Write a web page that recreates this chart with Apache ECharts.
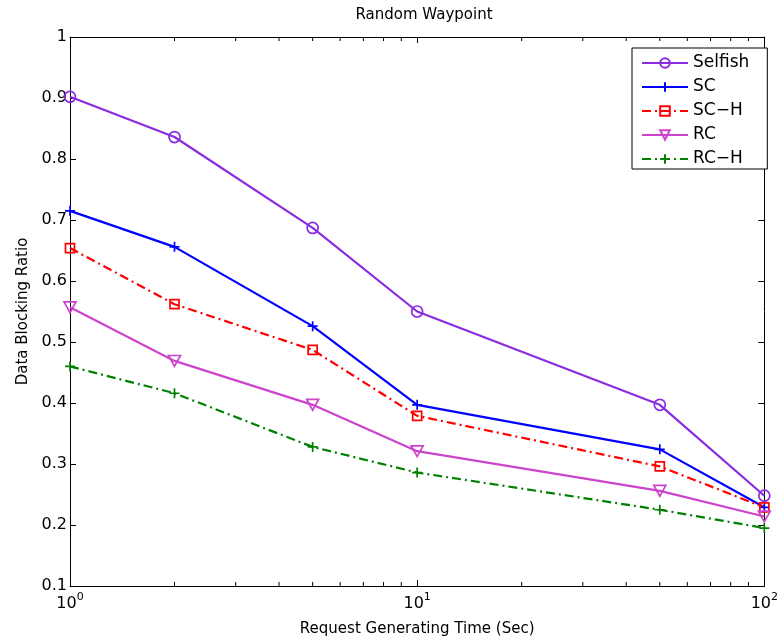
<!DOCTYPE html>
<html>
<head>
<meta charset="utf-8">
<script src="https://cdn.jsdelivr.net/npm/echarts@6/dist/echarts.min.js"></script>
<style>
  html, body { margin: 0; padding: 0; background: #fff; }
  #chart { width: 781px; height: 642px; }
</style>
</head>
<body>
<div id="chart"></div>
<script>
// Request generating time (seconds), log scale
const requestTimes = [1, 2, 5, 10, 50, 100];

// Data blocking ratio per scheme
const selfish = [0.902, 0.836, 0.687, 0.550, 0.397, 0.248];
const sc      = [0.715, 0.656, 0.526, 0.397, 0.324, 0.229];
const scH     = [0.654, 0.562, 0.487, 0.379, 0.296, 0.229];
const rc      = [0.557, 0.469, 0.397, 0.321, 0.256, 0.214];
const rcH     = [0.460, 0.416, 0.328, 0.286, 0.225, 0.195];

const seriesNames = ['Selfish', 'SC', 'SC\u2212H', 'RC', 'RC\u2212H'];

// Axis ranges
const xMin = 1, xMax = 100;
const yMin = 0.1, yMax = 1, yStep = 0.1;
const minorTickValues = [2, 3, 4, 5, 6, 7, 8, 9, 20, 30, 40, 50, 60, 70, 80, 90];

const FONT = 'DejaVu Sans';
const dashDot = [9, 4, 2, 4];

const plusPath = 'path://M5 0L5 10M0 5L10 5';
const downTriangle = 'path://M0 0L10 0L5 9Z';

function pairs(values) {
  return requestTimes.map((t, i) => [t, values[i]]);
}

function lineSeries(name, values, color, symbol, size, dashed) {
  return {
    name: name,
    type: 'line',
    data: pairs(values),
    symbol: symbol,
    symbolSize: size,
    symbolKeepAspect: true,
    clip: false,
    z: 3,
    lineStyle: { color: color, width: 2.2, type: dashed ? dashDot : 'solid' },
    itemStyle: { color: 'rgba(0,0,0,0)', borderColor: color, borderWidth: 1.7 },
    emphasis: { disabled: true }
  };
}

const chart = echarts.init(document.getElementById('chart'), null, { renderer: 'canvas' });

chart.setOption({
  animation: false,
  backgroundColor: '#fff',
  title: {
    text: 'Random Waypoint',
    left: 419,
    top: 3,
    textAlign: 'center',
    textStyle: { fontFamily: FONT, fontSize: 15, fontWeight: 'normal', color: '#000' }
  },
  grid: { left: 70, right: 13, top: 37, bottom: 55 },
  legend: {
    data: seriesNames,
    orient: 'vertical',
    left: 632,
    top: 48,
    padding: [6, 18, 1, 9],
    itemWidth: 46,
    itemHeight: 12,
    itemGap: 6,
    backgroundColor: '#fff',
    borderColor: '#000',
    borderWidth: 1,
    textStyle: { fontFamily: FONT, fontSize: 17, color: '#000', lineHeight: 18 }
  },
  xAxis: [
    {
      type: 'log',
      logBase: 10,
      min: xMin,
      max: xMax,
      splitNumber: 2,
      name: 'Request Generating Time (Sec)',
      nameLocation: 'middle',
      nameGap: 36,
      nameTextStyle: { fontFamily: FONT, fontSize: 15, color: '#000' },
      axisLine: { onZero: false, lineStyle: { color: '#000', width: 1 } },
      axisTick: { inside: true, length: 6, lineStyle: { color: '#000' } },
      splitLine: { show: false },
      axisLabel: {
        margin: 6,
        color: '#000',
        formatter: function (v) {
          return '{b|10}{s|' + Math.round(Math.log10(v)) + '}';
        },
        rich: {
          b: { fontFamily: FONT, fontSize: 16, color: '#000', verticalAlign: 'bottom' },
          s: { fontFamily: FONT, fontSize: 11, color: '#000', verticalAlign: 'top', padding: [0, 0, 9, 0] }
        }
      }
    },
    {
      type: 'log',
      logBase: 10,
      min: xMin,
      max: xMax,
      splitNumber: 2,
      position: 'top',
      axisLine: { onZero: false, lineStyle: { color: '#000', width: 1 } },
      axisTick: { inside: true, length: 6, lineStyle: { color: '#000' } },
      axisLabel: { show: false },
      splitLine: { show: false }
    }
  ],
  yAxis: [
    {
      type: 'value',
      min: yMin,
      max: yMax,
      interval: yStep,
      name: 'Data Blocking Ratio',
      nameLocation: 'middle',
      nameGap: 35,
      nameTextStyle: { fontFamily: FONT, fontSize: 15, color: '#000' },
      axisLine: { show: true, onZero: false, lineStyle: { color: '#000', width: 1 } },
      axisTick: { show: true, inside: true, length: 6, lineStyle: { color: '#000' } },
      splitLine: { show: false },
      axisLabel: { margin: 3, fontFamily: FONT, fontSize: 16, color: '#000' }
    },
    {
      type: 'value',
      min: yMin,
      max: yMax,
      interval: yStep,
      position: 'right',
      axisLine: { show: true, onZero: false, lineStyle: { color: '#000', width: 1 } },
      axisTick: { show: true, inside: true, length: 6, lineStyle: { color: '#000' } },
      axisLabel: { show: false },
      splitLine: { show: false }
    }
  ],
  series: [
    lineSeries(seriesNames[0], selfish, '#8a2be2', 'circle', 11, false),
    lineSeries(seriesNames[1], sc, '#0000ff', plusPath, 10, false),
    lineSeries(seriesNames[2], scH, '#ff0000', 'rect', 9, true),
    lineSeries(seriesNames[3], rc, '#cc44cc', downTriangle, 12, false),
    lineSeries(seriesNames[4], rcH, '#008000', plusPath, 10, true),
    {
      // minor log ticks on the bottom and top edges
      type: 'custom',
      silent: true,
      clip: false,
      z: 1,
      data: minorTickValues.map(v => [v, yMin]),
      renderItem: function (params, api) {
        const v = api.value(0);
        const b = api.coord([v, yMin]);
        const t = api.coord([v, yMax]);
        return {
          type: 'group',
          children: [
            { type: 'line', shape: { x1: b[0], y1: b[1], x2: b[0], y2: b[1] - 4 }, style: { stroke: '#000', lineWidth: 1 } },
            { type: 'line', shape: { x1: t[0], y1: t[1], x2: t[0], y2: t[1] + 4 }, style: { stroke: '#000', lineWidth: 1 } }
          ]
        };
      }
    }
  ]
});
</script>
</body>
</html>
